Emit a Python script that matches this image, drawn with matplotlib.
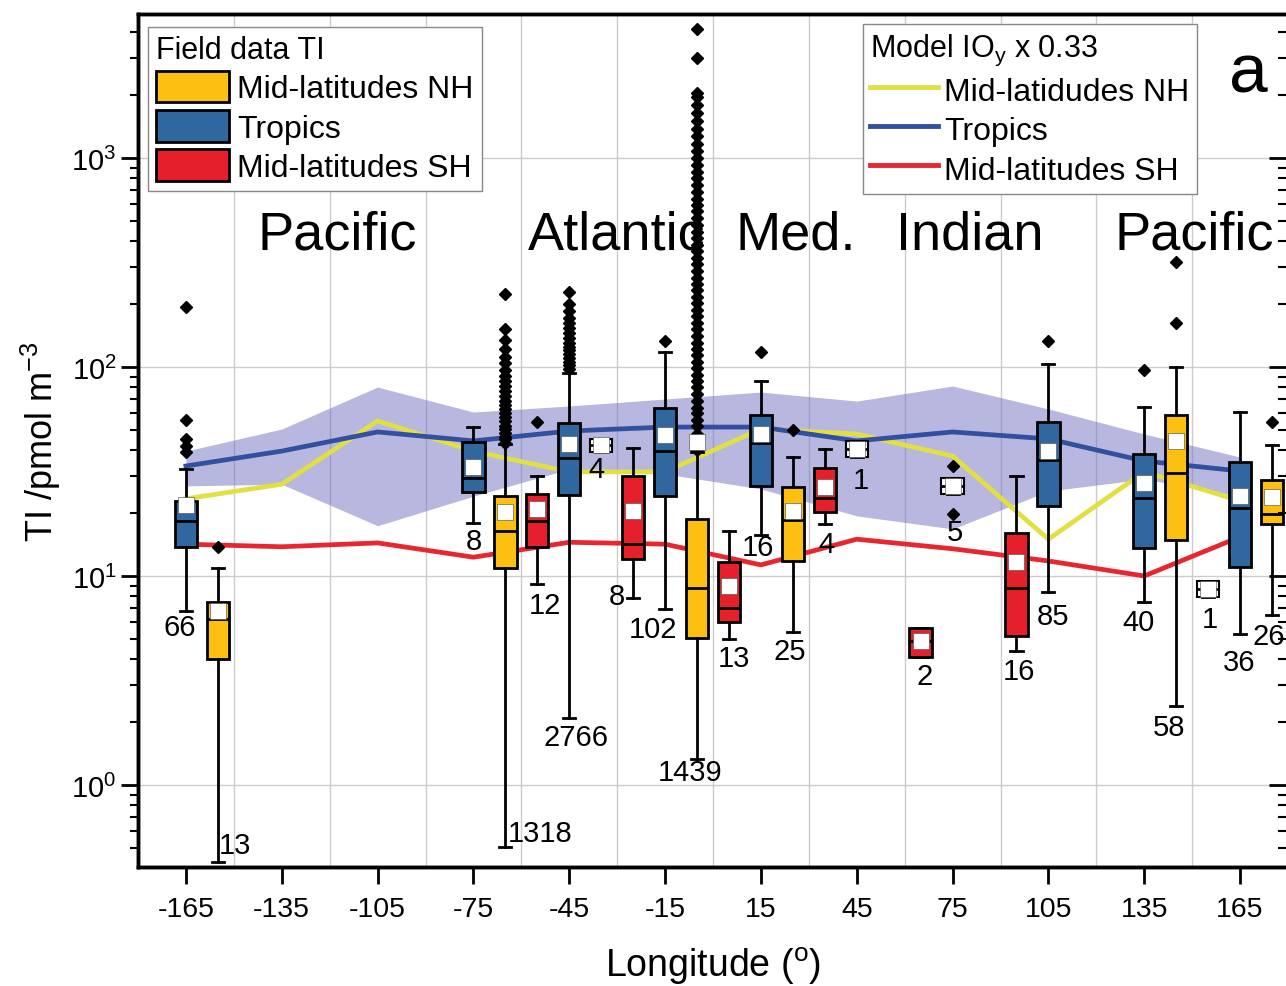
import numpy as np
import matplotlib.pyplot as plt
import matplotlib.transforms as mtransforms
from matplotlib.patches import Patch
from matplotlib.lines import Line2D

plt.rcParams['font.family'] = ['Liberation Sans', 'DejaVu Sans']
plt.rcParams['mathtext.default'] = 'regular'

# model IOy x 0.33 (lines + tropics spread)
model_lon = [-165, -135, -105, -75, -45, -15, 15, 45, 75, 105, 135, 165]
model_nh = [23.4, 27.5, 55.2, 39.6, 31.5, 31.5, 50.5, 47.8, 37.5, 15.0, 31.5, 22.9]
model_tr = [33.6, 39.6, 48.9, 44.3, 49.4, 51.6, 51.6, 44.3, 48.9, 45.3, 35.5, 31.8]
model_sh = [14.2, 13.8, 14.4, 12.3, 14.5, 14.2, 11.3, 15.0, 13.5, 11.8, 10.0, 15.4]
model_tr_hi = [39.6, 50.5, 80.2, 60.9, 65.1, 70.3, 75.9, 68.7, 81.1, 63.0, 47.8, 37.1]
model_tr_lo = [27.0, 27.5, 17.4, 24.1, 32.5, 30.8, 26.1, 19.4, 16.8, 25.5, 29.1, 24.1]

# field data TI box statistics
box_lon = [-165, -155, -75, -65, -55, -45, -35, -25, -15, -5, 5, 15,
           25, 35, 45, 65, 75, 95, 105, 135, 145, 155, 165, 175]
box_grp = ['T', 'NH', 'T', 'NH', 'SH', 'T', 'W', 'SH', 'T', 'NH', 'SH', 'T',
           'NH', 'SH', 'W', 'SH', 'W', 'SH', 'T', 'T', 'NH', 'W', 'T', 'NH']
box_n = [66, 13, 8, 1318, 12, 2766, 4, 8, 102, 1439, 13, 16,
         25, 4, 1, 2, 5, 16, 85, 40, 58, 1, 36, 26]
box_whislo = [6.8, 0.43, 17.9, 0.505, 9.2, 2.09, 39.2, 7.85, 6.95, 1.33, 5.0, 15.7,
              5.4, 17.7, 37.1, 4.1, 24.7, 4.38, 8.38, 7.51, 2.39, 7.94, 5.28, 6.51]
box_q1 = [13.8, 4.0, 25.2, 10.9, 13.8, 24.4, 39.2, 12.1, 24.1, 5.05, 6.03, 27.0,
          11.8, 20.2, 37.1, 4.1, 24.7, 5.16, 21.6, 13.6, 14.9, 7.94, 11.0, 17.7]
box_med = [18.3, 6.2, 29.4, 16.4, 18.3, 36.7, 42.4, 14.2, 39.6, 8.76, 7.03, 43.3,
           18.5, 23.6, 40.5, 4.89, 27.0, 8.76, 35.9, 23.6, 31.1, 8.67, 21.1, 19.8]
box_q3 = [22.8, 7.5, 43.8, 24.1, 24.7, 54.0, 45.2, 30.1, 63.7, 18.7, 11.7, 58.9,
          26.7, 32.9, 44.4, 5.64, 29.4, 16.1, 54.6, 38.3, 58.9, 9.46, 35.1, 28.8]
box_whishi = [32.5, 10.9, 51.6, 43.0, 30.1, 94.0, 45.2, 41.0, 118, 39.0, 16.4, 85.7,
              37.1, 40.5, 44.4, 5.64, 29.4, 30.1, 103, 64.4, 100, 9.46, 60.9, 42.4]
box_mean = [21.9, 6.8, 33.2, 20.2, 20.9, 42.8, 42.4, 20.5, 47.3, 43.8, 8.96, 47.8,
            20.5, 26.7, 40.5, 4.89, 27.0, 11.7, 39.6, 27.9, 44.3, 8.67, 24.1, 23.9]
box_fliers = [
    [194, 56, 45, 42, 39],
    [13.8],
    [],
    [223, 152, 135, 122, 112, 104, 97, 91, 86, 81, 77, 73, 69, 66, 63, 60,
     57.5, 55, 52.5, 50.5, 48.5, 46.5, 45, 43.5],
    [54.6],
    [229, 200, 185, 172, 162, 153, 145, 138, 131, 125, 120, 115, 110, 106, 102, 98],
    [],
    [],
    [133],
    [4150, 3000, 2050, 1950, 1800, 1650, 1500, 1380, 1270, 1170, 1080, 1000, 930,
     860, 800, 740, 690, 640, 595, 555, 515, 480, 445, 415, 385, 358, 333, 310,
     288, 268, 250, 233, 217, 202, 188, 175, 163, 152, 141, 131, 122, 114, 106,
     99, 92, 86, 80, 74, 69, 64, 60, 56, 52, 48, 45, 42, 40],
    [],
    [118],
    [50],
    [],
    [],
    [],
    [33.6, 19.8],
    [],
    [133],
    [96.8],
    [318, 162],
    [],
    [],
    [54.6],
]
# where the count labels sit, pixels from the lower whisker end
n_offset = [(-6, -16), (17, 17), (0, -18), (35, 14), (8, -21), (7, -19), (-5, -17),
            (-16, 2), (-12, -20), (-7, -13), (5, -19), (-3, -12), (-3, -19), (2, -20),
            (4, -23), (4, -19), (2, -38), (2, -20), (5, -24), (-6, -20), (-7, -21),
            (2, -22), (-1, -28), (-3, -21)]

regions = ['Pacific', 'Atlantic', 'Med.', 'Indian', 'Pacific']
region_lon = [-117.8, -30, 26, 80.3, 150.6]

col_box = {'NH': '#FDC010', 'T': '#31679F', 'SH': '#E5202A', 'W': 'white'}
col_nh_line = '#E2DF45'
col_tr_line = '#3150A0'
col_sh_line = '#E8262F'

fig = plt.figure(figsize=(12.86, 9.87), dpi=100)
ax = fig.add_axes([138 / 1286, 119 / 987, 1150 / 1286, 853 / 987])
ax.set_yscale('log')
ax.set_xlim(-180, 180)
ax.set_ylim(0.405, 4890)

# grid
ax.set_axisbelow(True)
ax.set_xticks(range(-165, 166, 30))
ax.set_xticks(range(-150, 151, 30), minor=True)
ax.grid(True, axis='x', which='minor', color='#cccccc', lw=1)
ax.grid(True, axis='y', which='major', color='#cccccc', lw=1)

# model
ax.fill_between(model_lon, model_tr_lo, model_tr_hi, color='#7070c0', alpha=0.5,
                lw=0, zorder=1)
ax.plot(model_lon, model_nh, color=col_nh_line, lw=3.4, zorder=2)
ax.plot(model_lon, model_tr, color=col_tr_line, lw=3.4, zorder=2)
ax.plot(model_lon, model_sh, color=col_sh_line, lw=3.4, zorder=2)

# boxes
stats = []
for i in range(len(box_lon)):
    stats.append(dict(med=box_med[i], q1=box_q1[i], q3=box_q3[i],
                      whislo=box_whislo[i], whishi=box_whishi[i],
                      mean=box_mean[i], fliers=np.array(box_fliers[i])))
bp = ax.bxp(stats, positions=box_lon, widths=7, capwidths=3.8, patch_artist=True,
            showmeans=True, manage_ticks=False, zorder=3,
            boxprops=dict(edgecolor='black', lw=2),
            medianprops=dict(color='black', lw=2),
            whiskerprops=dict(color='black', lw=2),
            capprops=dict(color='black', lw=2),
            flierprops=dict(marker='D', mfc='black', mec='black', ms=6),
            meanprops=dict(marker='s', mfc='white', mec='#444444', mew=0.4, ms=11.5))
for patch, g in zip(bp['boxes'], box_grp):
    patch.set_facecolor(col_box[g])
    if g == 'W':
        patch.set_linewidth(1.5)

for i in range(len(box_lon)):
    ax.annotate(str(box_n[i]), xy=(box_lon[i], box_whislo[i]), xytext=n_offset[i],
                textcoords='offset pixels', ha='center', va='center', fontsize=21,
                zorder=5)

trans = mtransforms.blended_transform_factory(ax.transData, ax.transAxes)
for name, lon in zip(regions, region_lon):
    ax.text(lon, 0.742, name, transform=trans, ha='center', va='center', fontsize=39,
            zorder=6)
ax.text(167.5, 0.93, 'a', transform=trans, ha='center', va='center', fontsize=50)

# axes styling
for s in ax.spines.values():
    s.set_linewidth(2.5)
ax.tick_params(axis='x', which='major', direction='out', length=12, width=2,
               labelsize=20.5, pad=9)
ax.tick_params(axis='x', which='minor', length=0)
ax.tick_params(axis='y', which='major', direction='out', length=12, width=2,
               labelsize=21)
ax.tick_params(axis='y', which='minor', direction='out', length=6, width=1.5)
ax.set_xticklabels([str(v) for v in range(-165, 166, 30)])
ax.set_xlabel('Longitude ($^{o}$)', fontsize=27, labelpad=16)
ax.set_ylabel('TI /pmol m$^{-3}$', fontsize=26, labelpad=6)

ax2 = ax.twinx()
ax2.set_yscale('log')
ax2.set_ylim(ax.get_ylim())
ax2.tick_params(axis='y', which='major', direction='in', length=14, width=2,
                labelright=False)
ax2.tick_params(axis='y', which='minor', direction='in', length=7, width=1.5)
for s in ax2.spines.values():
    s.set_linewidth(2.5)

# legends
h1 = [Patch(fc=col_box['NH'], ec='black', lw=2, label='Mid-latitudes NH'),
      Patch(fc=col_box['T'], ec='black', lw=2, label='Tropics'),
      Patch(fc=col_box['SH'], ec='black', lw=2, label='Mid-latitudes SH')]
leg1 = ax2.legend(handles=h1, title='Field data TI', loc='upper left',
                  bbox_to_anchor=(0.0087, 0.985), fontsize=23, title_fontsize=22,
                  alignment='left', fancybox=False, edgecolor='#888888', framealpha=1,
                  borderaxespad=0, handlelength=2.3, handleheight=1.15,
                  handletextpad=0.25, labelspacing=0.18, borderpad=0.25)
leg1.get_frame().set_linewidth(1)
ax2.add_artist(leg1)

h2 = [Line2D([], [], color=col_nh_line, lw=3.5, label='Mid-latidudes NH'),
      Line2D([], [], color=col_tr_line, lw=3.5, label='Tropics'),
      Line2D([], [], color=col_sh_line, lw=3.5, label='Mid-latitudes SH')]
leg2 = ax2.legend(handles=h2, title='Model IO$_y$ x 0.33', loc='upper left',
                  bbox_to_anchor=(0.63, 0.988), fontsize=23, title_fontsize=22,
                  alignment='left', fancybox=False, edgecolor='#888888', framealpha=1,
                  borderaxespad=0, handlelength=2.1, handleheight=1.15,
                  handletextpad=0.2, labelspacing=0.18, borderpad=0.25)
leg2.get_frame().set_linewidth(1)

fig.savefig('out.png', dpi=100)
